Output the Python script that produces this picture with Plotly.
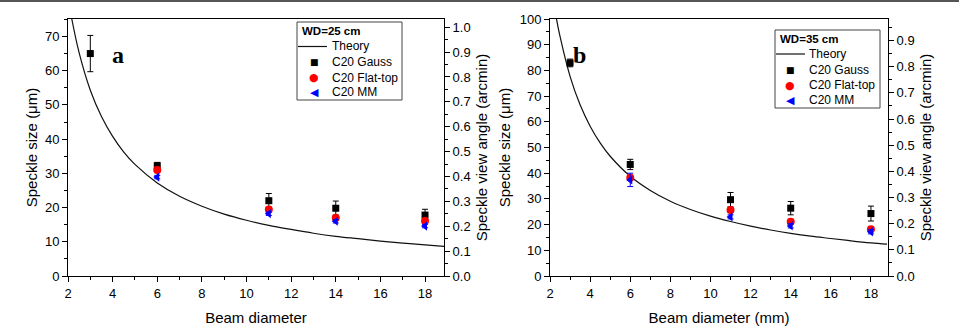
import plotly.graph_objects as go

W, H = 959, 328

# ---------------- data ----------------
beam = [3, 6, 11, 14, 18]
beam_rest = [6, 11, 14, 18]

# panel a, WD = 25 cm (speckle size, um)
a_gauss = [65.0, 32.2, 22.0, 19.8, 17.8]
a_gauss_err = [5.3, 1.0, 2.1, 2.1, 1.7]
a_flat = [31.0, 19.4, 17.0, 16.1]
a_flat_err = [0.8, 0.8, 0.8, 0.8]
a_mm = [28.9, 18.2, 16.0, 14.6]
a_mm_err = [0.5, 0.5, 0.5, 0.5]
a_theory_d = [2.17, 2.5, 3, 3.5, 4, 4.5, 5, 6, 7, 8, 9, 10, 11, 12, 13, 14, 15, 16, 17, 18, 18.9]
a_theory = [75.1, 65.2, 54.3, 46.6, 40.8, 36.2, 32.6, 27.2, 23.3, 20.4, 18.1, 16.3,
            14.8, 13.6, 12.5, 11.6, 10.9, 10.2, 9.6, 9.1, 8.6]

# panel b, WD = 35 cm
b_gauss = [82.9, 43.4, 29.7, 26.4, 24.3]
b_gauss_err = [1.5, 2.0, 2.8, 2.6, 2.9]
b_flat = [38.2, 25.7, 21.1, 18.2]
b_flat_err = [1.0, 1.0, 1.0, 1.0]
b_mm = [37.4, 23.0, 19.5, 17.2]
b_mm_err = [2.6, 0.8, 0.8, 0.8]
b_theory_d = [2.3, 2.5, 3, 3.5, 4, 4.5, 5, 6, 7, 8, 9, 10, 11, 12, 13, 14, 15, 16, 17, 18, 18.8]
b_theory = [101.0, 93.2, 77.7, 66.6, 58.3, 51.8, 46.6, 38.8, 33.3, 29.1, 25.9, 23.3,
            21.2, 19.4, 17.9, 16.6, 15.5, 14.6, 13.7, 12.9, 12.4]

# um per arcmin at the two working distances
um_per_arcmin_a = 72.7
um_per_arcmin_b = 101.8

x_ticks = [2, 4, 6, 8, 10, 12, 14, 16, 18]

series_names = ["Theory", "C20 Gauss", "C20 Flat-top", "C20 MM"]
series_colors = ["#111111", "#000000", "#ff0000", "#0000ff"]
series_glyphs = ["", "\u25A0", "\u25CF", "\u25C0"]
legend_titles = ["WD=25 cm", "WD=35 cm"]

# ---------------- geometry ----------------
def px_x(p):
    return p / W

def px_y(p):
    return 1 - p / H

top, bottom = 19, 276
ax_a = (68, 444)
ax_b = (550, 888)

FONT = "Liberation Sans, Arial, sans-serif"
SYMFONT = "DejaVu Sans, sans-serif"

fig = go.Figure()

def add_panel(xa, ya, d_th, th, g, ge, f, fe, m, me):
    fig.add_trace(go.Scatter(x=d_th, y=th, mode="lines",
                             line=dict(color=series_colors[0], width=1.2, shape="spline"),
                             name=series_names[0], xaxis=xa, yaxis=ya, showlegend=False))
    fig.add_trace(go.Scatter(x=beam, y=g, mode="markers", name=series_names[1],
                             marker=dict(symbol="square", color=series_colors[1], size=7),
                             error_y=dict(type="data", array=ge, color=series_colors[1], thickness=1, width=3),
                             xaxis=xa, yaxis=ya, showlegend=False))
    fig.add_trace(go.Scatter(x=beam_rest, y=f, mode="markers", name=series_names[2],
                             marker=dict(symbol="circle", color=series_colors[2], size=8),
                             error_y=dict(type="data", array=fe, color=series_colors[2], thickness=1, width=3),
                             xaxis=xa, yaxis=ya, showlegend=False))
    fig.add_trace(go.Scatter(x=beam_rest, y=m, mode="markers", name=series_names[3],
                             marker=dict(symbol="triangle-left", color=series_colors[3], size=8),
                             error_y=dict(type="data", array=me, color=series_colors[3], thickness=1, width=3),
                             xaxis=xa, yaxis=ya, showlegend=False))

add_panel("x", "y", a_theory_d, a_theory, a_gauss, a_gauss_err, a_flat, a_flat_err, a_mm, a_mm_err)
add_panel("x2", "y3", b_theory_d, b_theory, b_gauss, b_gauss_err, b_flat, b_flat_err, b_mm, b_mm_err)

# invisible traces to activate right axes
fig.add_trace(go.Scatter(x=[None], y=[None], xaxis="x", yaxis="y2", showlegend=False))
fig.add_trace(go.Scatter(x=[None], y=[None], xaxis="x2", yaxis="y4", showlegend=False))

tickfont = dict(family=FONT, size=13, color="black")
titlefont = dict(family=FONT, size=15, color="black")

def xaxis_cfg(dom, anchor, title):
    return dict(domain=dom, anchor=anchor, range=[2, 18.85], tickvals=x_ticks, automargin=False,
                ticks="outside", ticklen=5, tickwidth=1, tickcolor="black",
                minor=dict(dtick=1, tick0=2, ticks="outside", ticklen=3, tickcolor="black"),
                showline=True, linecolor="black", linewidth=1, mirror=True,
                showgrid=False, zeroline=False, tickfont=tickfont,
                title=dict(text=title, font=titlefont, standoff=12))

def yaxis_cfg(anchor, rng, dtick, minor, title, side="left", overlay=None, fmt=None, standoff=6):
    d = dict(anchor=anchor, range=rng, dtick=dtick, tick0=0, side=side, automargin=False,
             ticks="outside", ticklen=5, tickwidth=1, tickcolor="black",
             minor=dict(dtick=minor, tick0=0, ticks="outside", ticklen=3, tickcolor="black"),
             showline=True, linecolor="black", linewidth=1,
             showgrid=False, zeroline=False, tickfont=tickfont,
             title=dict(text=title, font=titlefont, standoff=standoff))
    if overlay:
        d["overlaying"] = overlay
    if fmt:
        d["tickformat"] = fmt
    return d

ydom = [px_y(bottom), px_y(top)]
ra = [0, 75.1]
rb = [0, 100]

annotations = [
    dict(text="<b>a</b>", x=px_x(110), y=px_y(40), xref="paper", yref="paper", showarrow=False,
         font=dict(family="Liberation Serif, Times New Roman, serif", size=24, color="black")),
    dict(text="<b>b</b>", x=px_x(579), y=px_y(40), xref="paper", yref="paper", showarrow=False,
         font=dict(family="Liberation Serif, Times New Roman, serif", size=24, color="black")),
]
shapes = [
    dict(type="rect", xref="paper", yref="paper", x0=0, x1=1, y0=px_y(2), y1=1,
         fillcolor="#555", line=dict(width=0)),
]

# hand-built compact legends (box, title, line sample, glyphs, labels)
legend_boxes = [
    dict(x0=297, x1=402, y0=22, y1=100, title_y=31, rows=[46.5, 62, 77.5, 92], sym_x=314, lab_x=330,
         line=(298, 327)),
    dict(x0=775, x1=880, y0=30, y1=108, title_y=38.5, rows=[54, 69.5, 85, 100], sym_x=790, lab_x=807,
         line=(776, 805)),
]
for k, lb in enumerate(legend_boxes):
    shapes.append(dict(type="rect", xref="paper", yref="paper",
                       x0=px_x(lb["x0"]), x1=px_x(lb["x1"]), y0=px_y(lb["y1"]), y1=px_y(lb["y0"]),
                       fillcolor="white", line=dict(color="#444", width=1), layer="above"))
    annotations.append(dict(text="<b>" + legend_titles[k] + "</b>", x=px_x(lb["x0"] + 3), y=px_y(lb["title_y"]),
                            xref="paper", yref="paper", xanchor="left", yanchor="middle", showarrow=False,
                            font=dict(family=FONT, size=11.5, color="black")))
    shapes.append(dict(type="line", xref="paper", yref="paper",
                       x0=px_x(lb["line"][0]), x1=px_x(lb["line"][1]),
                       y0=px_y(lb["rows"][0]), y1=px_y(lb["rows"][0]),
                       line=dict(color=series_colors[0], width=1.2), layer="above"))
    for i, name in enumerate(series_names):
        annotations.append(dict(text=name, x=px_x(lb["lab_x"]), y=px_y(lb["rows"][i]),
                                xref="paper", yref="paper", xanchor="left", yanchor="middle",
                                showarrow=False, font=dict(family=FONT, size=12, color="black")))
        if series_glyphs[i]:
            annotations.append(dict(text=series_glyphs[i], x=px_x(lb["sym_x"]), y=px_y(lb["rows"][i]),
                                    xref="paper", yref="paper", xanchor="center", yanchor="middle",
                                    showarrow=False,
                                    font=dict(family=SYMFONT, size=9 if i == 1 else 11,
                                              color=series_colors[i])))

fig.update_layout(
    width=W, height=H, margin=dict(l=0, r=0, t=0, b=0),
    paper_bgcolor="white", plot_bgcolor="white", showlegend=False,
    xaxis=xaxis_cfg([px_x(ax_a[0]), px_x(ax_a[1])], "y", "Beam diameter"),
    xaxis2=xaxis_cfg([px_x(ax_b[0]), px_x(ax_b[1])], "y3", "Beam diameter (mm)"),
    yaxis=dict(domain=ydom, **yaxis_cfg("x", ra, 10, 5, "Speckle size (μm)", standoff=3)),
    yaxis2=yaxis_cfg("x", [ra[0] / um_per_arcmin_a, ra[1] / um_per_arcmin_a], 0.1, 0.05,
                     "Speckle view angle (arcmin)", side="right", overlay="y", fmt=".1f"),
    yaxis3=dict(domain=ydom, **yaxis_cfg("x2", rb, 10, 5, "Speckle size (μm)", standoff=5)),
    yaxis4=yaxis_cfg("x2", [rb[0] / um_per_arcmin_b, rb[1] / um_per_arcmin_b], 0.1, 0.05,
                     "Speckle view angle (arcmin)", side="right", overlay="y3", fmt=".1f"),
    annotations=annotations,
    shapes=shapes,
)

fig.write_html("out.html")
